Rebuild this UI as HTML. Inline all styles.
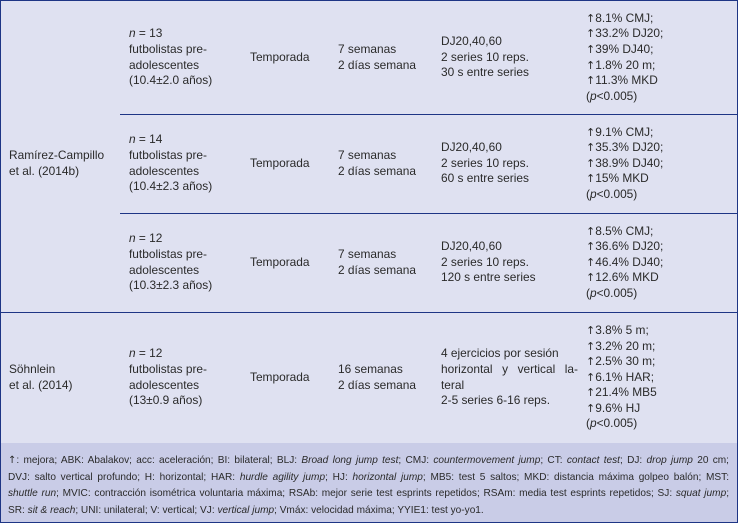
<!DOCTYPE html>
<html><head><meta charset="utf-8">
<style>
html,body{margin:0;padding:0;}
body{width:738px;height:523px;position:relative;background:#dfe1f1;font-family:"Liberation Sans",sans-serif;font-size:11.9px;color:#2a2a2a;overflow:hidden;}
.frame{position:absolute;left:0;top:0;width:736px;height:521px;border:1px solid #1e3585;}
.c{position:absolute;display:flex;flex-direction:column;justify-content:center;line-height:15.6px;white-space:nowrap;}
.h{position:absolute;height:1px;background:#1e3585;}
.foot{position:absolute;left:1px;top:443px;width:736px;height:79px;background:#c9cce7;}
.ft{position:absolute;left:8px;top:453px;width:721px;font-size:10.1px;line-height:16.5px;color:#2a2a2a;}
.ft div{text-align:justify;text-align-last:justify;white-space:nowrap;}
.ft div.last{text-align-last:left;}
.a{font-family:"DejaVu Sans",sans-serif;font-size:11px;}
</style></head><body>
<div class="foot"></div>
<div class="frame"></div>
<div class="h" style="left:120px;top:114px;width:617px"></div>
<div class="h" style="left:120px;top:213px;width:617px"></div>
<div class="h" style="left:1px;top:312px;width:736px"></div>

<div class="c" style="left:9px;top:114px;height:99px"><div>Ramírez-Campillo</div><div>et al. (2014b)</div></div>

<div class="c" style="left:129px;top:1px;height:113px"><div><i>n</i> = 13</div><div>futbolistas pre-</div><div>adolescentes</div><div>(10.4±2.0 años)</div></div>
<div class="c" style="left:250px;top:1px;height:113px"><div>Temporada</div></div>
<div class="c" style="left:338px;top:1px;height:113px"><div>7 semanas</div><div>2 días semana</div></div>
<div class="c" style="left:441px;top:1px;height:113px"><div>DJ20,40,60</div><div>2 series 10 reps.</div><div>30 s entre series</div></div>
<div class="c" style="left:586px;top:1px;height:113px"><div><span class="a">↑</span>8.1% CMJ;</div><div><span class="a">↑</span>33.2% DJ20;</div><div><span class="a">↑</span>39% DJ40;</div><div><span class="a">↑</span>1.8% 20 m;</div><div><span class="a">↑</span>11.3% MKD</div><div>(<i>p</i>&lt;0.005)</div></div>

<div class="c" style="left:129px;top:114px;height:99px"><div><i>n</i> = 14</div><div>futbolistas pre-</div><div>adolescentes</div><div>(10.4±2.3 años)</div></div>
<div class="c" style="left:250px;top:114px;height:99px"><div>Temporada</div></div>
<div class="c" style="left:338px;top:114px;height:99px"><div>7 semanas</div><div>2 días semana</div></div>
<div class="c" style="left:441px;top:114px;height:99px"><div>DJ20,40,60</div><div>2 series 10 reps.</div><div>60 s entre series</div></div>
<div class="c" style="left:586px;top:114px;height:99px"><div><span class="a">↑</span>9.1% CMJ;</div><div><span class="a">↑</span>35.3% DJ20;</div><div><span class="a">↑</span>38.9% DJ40;</div><div><span class="a">↑</span>15% MKD</div><div>(<i>p</i>&lt;0.005)</div></div>

<div class="c" style="left:129px;top:213px;height:99px"><div><i>n</i> = 12</div><div>futbolistas pre-</div><div>adolescentes</div><div>(10.3±2.3 años)</div></div>
<div class="c" style="left:250px;top:213px;height:99px"><div>Temporada</div></div>
<div class="c" style="left:338px;top:213px;height:99px"><div>7 semanas</div><div>2 días semana</div></div>
<div class="c" style="left:441px;top:213px;height:99px"><div>DJ20,40,60</div><div>2 series 10 reps.</div><div>120 s entre series</div></div>
<div class="c" style="left:586px;top:213px;height:99px"><div><span class="a">↑</span>8.5% CMJ;</div><div><span class="a">↑</span>36.6% DJ20;</div><div><span class="a">↑</span>46.4% DJ40;</div><div><span class="a">↑</span>12.6% MKD</div><div>(<i>p</i>&lt;0.005)</div></div>

<div class="c" style="left:9px;top:312px;height:131px"><div>Söhnlein</div><div>et al. (2014)</div></div>
<div class="c" style="left:129px;top:312px;height:131px"><div><i>n</i> = 12</div><div>futbolistas pre-</div><div>adolescentes</div><div>(13±0.9 años)</div></div>
<div class="c" style="left:250px;top:312px;height:131px"><div>Temporada</div></div>
<div class="c" style="left:338px;top:312px;height:131px"><div>16 semanas</div><div>2 días semana</div></div>
<div class="c" style="left:441px;top:312px;height:131px"><div>4 ejercicios por sesión</div><div style="width:137px;text-align:justify;text-align-last:justify">horizontal y vertical la-</div><div>teral</div><div>2-5 series 6-16 reps.</div></div>
<div class="c" style="left:586px;top:312px;height:131px"><div><span class="a">↑</span>3.8% 5 m;</div><div><span class="a">↑</span>3.2% 20 m;</div><div><span class="a">↑</span>2.5% 30 m;</div><div><span class="a">↑</span>6.1% HAR;</div><div><span class="a">↑</span>21.4% MB5</div><div><span class="a">↑</span>9.6% HJ</div><div>(<i>p</i>&lt;0.005)</div></div>

<div class="ft">
<div><span class="a" style="font-size:10px">↑</span>: mejora; ABK: Abalakov; acc: aceleración; BI: bilateral; BLJ: <i>Broad long jump test</i>; CMJ: <i>countermovement jump</i>; CT: <i>contact test</i>; DJ: <i>drop jump</i> 20 cm;</div>
<div>DVJ: salto vertical profundo; H: horizontal; HAR: <i>hurdle agility jump</i>; HJ: <i>horizontal jump</i>; MB5: test 5 saltos; MKD: distancia máxima golpeo balón; MST:</div>
<div><i>shuttle run</i>; MVIC: contracción isométrica voluntaria máxima; RSAb: mejor serie test esprints repetidos; RSAm: media test esprints repetidos; SJ: <i>squat jump</i>;</div>
<div class="last">SR: <i>sit &amp; reach</i>; UNI: unilateral; V: vertical; VJ: <i>vertical jump</i>; Vmáx: velocidad máxima; YYIE1: test yo-yo1.</div>
</div>
</body></html>
